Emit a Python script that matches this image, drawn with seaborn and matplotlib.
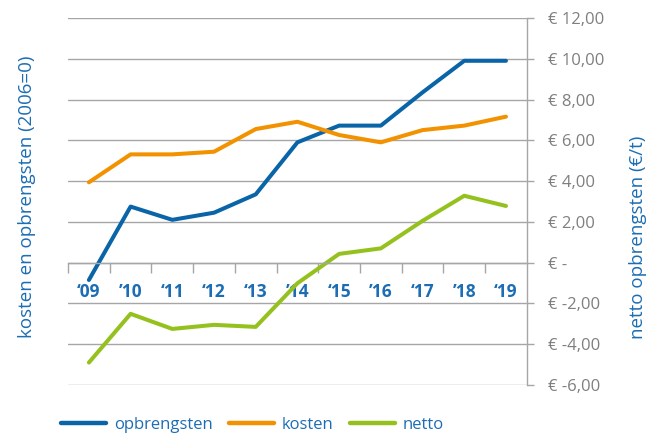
import matplotlib
matplotlib.use("Agg")
import matplotlib.pyplot as plt
import seaborn as sns
import pandas as pd
from matplotlib.ticker import FixedLocator

# data
years = ["\u201809", "\u201910", "\u201811", "\u201812", "\u201813", "\u201914",
         "\u201815", "\u201916", "\u201817", "\u201918", "\u201819"]
opbrengsten = [-0.85, 2.75, 2.1, 2.45, 3.35, 5.9, 6.72, 6.72, 8.35, 9.9, 9.9]
kosten = [3.94, 5.31, 5.31, 5.44, 6.55, 6.91, 6.26, 5.9, 6.5, 6.72, 7.16]
netto = [-4.9, -2.51, -3.25, -3.05, -3.15, -1.01, 0.43, 0.7, 2.05, 3.28, 2.78]

y_ticks = [12, 10, 8, 6, 4, 2, 0, -2, -4, -6]
y_labels = ["\u20ac 12,00", "\u20ac 10,00", "\u20ac 8,00", "\u20ac 6,00", "\u20ac 4,00",
            "\u20ac 2,00", "\u20ac -", "\u20ac -2,00", "\u20ac -4,00", "\u20ac -6,00"]

BLUE = "#0a64a8"
ORANGE = "#f39200"
GREEN = "#95c11f"
TEXT_BLUE = "#1c6db3"
GRID = "#a6a6a6"
TICK_GREY = "#7f7f7f"

sns.set_style("white")
plt.rcParams["font.family"] = ["Open Sans", "DejaVu Sans"]

df = pd.DataFrame({
    "x": list(range(len(years))) * 3,
    "waarde": opbrengsten + kosten + netto,
    "reeks": ["opbrengsten"] * len(years) + ["kosten"] * len(years) + ["netto"] * len(years),
})

fig = plt.figure(figsize=(6.48, 4.38), dpi=100)
ax = fig.add_axes([0.105, 0.121, 0.708, 0.838])

sns.lineplot(data=df, x="x", y="waarde", hue="reeks",
             palette={"opbrengsten": BLUE, "kosten": ORANGE, "netto": GREEN},
             linewidth=2.9, ax=ax, legend=False)

ax.set_xlim(-0.5, len(years) - 0.5)
ax.set_ylim(-6, 12)

# horizontal gridlines, labels on the right
ax.set_yticks(y_ticks)
ax.yaxis.grid(True, color=GRID, linewidth=1.0)
ax.set_axisbelow(True)
ax.yaxis.tick_right()
ax.set_yticklabels(y_labels, color=TICK_GREY, fontsize=12, ha="left")
ax.tick_params(axis="y", which="major", right=True, left=False, length=5,
               width=1.0, color=GRID, pad=10)

# x axis along zero line
ax.spines["bottom"].set_position(("data", 0))
ax.spines["bottom"].set_color(GRID)
ax.spines["bottom"].set_linewidth(1.0)
for s in ["top", "left"]:
    ax.spines[s].set_visible(False)
ax.spines["right"].set_color(GRID)
ax.spines["right"].set_linewidth(1.0)

ax.set_xticks(range(len(years)))
ax.set_xticklabels(years, color=TEXT_BLUE, fontsize=12.5, fontweight="bold")
ax.xaxis.set_minor_locator(FixedLocator([i - 0.5 for i in range(len(years))]))
ax.tick_params(axis="x", which="major", bottom=True, length=0, pad=15)
ax.tick_params(axis="x", which="minor", bottom=True, length=7, width=1.0,
               color=GRID, direction="out")

ax.set_xlabel("")
ax.set_ylabel("")

fig.text(0.042, 0.55, "kosten en opbrengsten (2006=0)", rotation=90,
         color=TEXT_BLUE, fontsize=13.5, ha="center", va="center")
fig.text(0.984, 0.459, "netto opbrengsten (\u20ac/t)", rotation=90,
         color=TEXT_BLUE, fontsize=13.5, ha="center", va="center")

# legend below the plot
handles = [plt.Line2D([], [], color=c, linewidth=3.2, solid_capstyle="round")
           for c in [BLUE, ORANGE, GREEN]]
leg = fig.legend(handles, ["opbrengsten", "kosten", "netto"], loc="center",
                 bbox_to_anchor=(0.39, 0.03), ncol=3, frameon=False,
                 fontsize=12, handlelength=2.7, handletextpad=0.45, columnspacing=1.0)
for t in leg.get_texts():
    t.set_color(TEXT_BLUE)

fig.savefig("out.png", dpi=100)
